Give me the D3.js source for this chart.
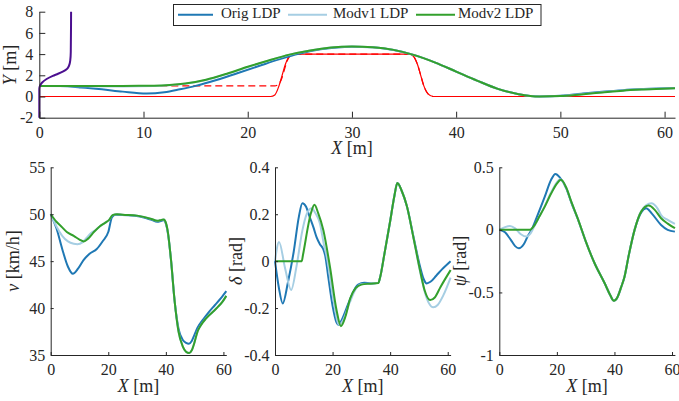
<!DOCTYPE html>
<html>
<head>
<meta charset="utf-8">
<script src="https://cdn.jsdelivr.net/npm/d3@7"></script>
<style>
  body { margin: 0; background: #fff; }
  text { font-family: "Liberation Serif", "Times New Roman", serif; fill: #262626; }
</style>
</head>
<body>
<svg id="chart" width="679" height="401"></svg>
<script>
// ---------- Data ----------
const seriesNames = ["Orig LDP", "Modv1 LDP", "Modv2 LDP"];

// Top panel: vehicle paths Y(X) [m]
const trajOrigX = [0, 2, 4, 6, 8, 10.3, 12, 13.5, 15, 17, 19, 21, 23, 25, 27, 30, 32, 34, 36, 38, 40, 42, 44, 46, 48, 50, 52, 54, 56, 58, 61];
const trajOrigY = [1.0, 0.98, 0.86, 0.68, 0.46, 0.28, 0.4, 0.68, 1.0, 1.55, 2.2, 2.85, 3.5, 4.05, 4.45, 4.7, 4.64, 4.38, 3.9, 3.2, 2.35, 1.5, 0.72, 0.22, 0.01, 0.08, 0.27, 0.45, 0.6, 0.7, 0.8];
const trajModv1X = [0, 4, 8, 11, 12.5, 14, 16, 18, 20, 22, 24, 26, 28, 30, 32, 34, 36, 38, 40, 42, 44, 46, 48, 50, 52, 54, 56, 58, 61];
const trajModv1Y = [1.0, 0.96, 0.95, 0.99, 1.06, 1.2, 1.56, 2.12, 2.77, 3.38, 3.94, 4.34, 4.62, 4.72, 4.65, 4.4, 3.9, 3.2, 2.35, 1.5, 0.72, 0.22, 0.0, 0.05, 0.22, 0.4, 0.57, 0.68, 0.79];
const trajModv2X = [0, 4, 8, 11, 12.5, 14, 16, 18, 20, 22, 24, 26, 28, 30, 32, 34, 36, 38, 40, 42, 44, 46, 48, 50, 52, 54, 56, 58, 61];
const trajModv2Y = [1.0, 1.0, 1.0, 1.02, 1.08, 1.22, 1.58, 2.15, 2.8, 3.4, 3.95, 4.35, 4.62, 4.72, 4.65, 4.4, 3.9, 3.2, 2.35, 1.5, 0.72, 0.22, 0.0, 0.04, 0.2, 0.38, 0.55, 0.66, 0.78];

// Lane centre (solid) and reference path (dashed)
const laneX = [0, 22.2, 22.6, 23.0, 23.3, 23.6, 24.0, 24.5, 35.5, 35.9, 36.3, 36.6, 36.9, 37.3, 37.8, 61];
const laneY = [0, 0, 0.15, 1.0, 2.0, 3.0, 3.8, 4.0, 4.0, 3.8, 3.0, 2.0, 1.0, 0.25, 0, 0];
const refX = [0, 22.6, 23.0, 23.3, 23.6, 23.9, 24.3, 24.8, 35.5, 35.9, 36.3, 36.6, 36.9, 37.3, 37.8, 61];
const refY = [1, 1, 1.2, 1.8, 2.8, 3.6, 3.95, 4.0, 4.0, 3.8, 3.0, 2.0, 1.0, 0.25, 0, 0];

// Driver intention curve
const intentX = [0, 0, 0.08, 0.25, 0.7, 1.3, 1.8, 2.3, 2.65, 2.85, 2.97, 3.02, 3.05];
const intentY = [-2, 0.7, 1.05, 1.3, 1.65, 1.95, 2.15, 2.38, 2.6, 2.9, 3.4, 4.2, 8];

// Speed v [km/h]
const speedOrigX = [0, 2, 4, 6, 7.7, 9.5, 11.4, 13.5, 16, 18, 20, 21.3, 22.5, 27, 31, 35, 37, 38.5, 39.3, 40, 40.8, 41.8, 43, 44.4, 45.9, 47, 48, 49, 50, 51, 53, 55, 57, 59, 61];
const speedOrigV = [50, 48.5, 46.3, 44.4, 43.65, 44.2, 45.1, 45.8, 46.3, 47.1, 48.1, 49.7, 49.95, 49.9, 49.75, 49.4, 49.2, 49.3, 49.35, 49.0, 47.8, 45.1, 40.9, 37.8, 36.6, 36.3, 36.2, 36.5, 37.2, 37.9, 38.8, 39.6, 40.3, 41.0, 41.8];
const speedModv1X = [0, 2, 4, 6, 8, 9.3, 11, 12.5, 14, 15.5, 17, 19, 20.3, 21.5, 23, 25, 30, 35, 37, 38.5, 39.3, 40, 40.6, 41.8, 43, 44.4, 45.9, 47, 48.1, 49, 50, 51, 52, 54, 56, 58, 59.5, 61];
const speedModv1V = [50, 48.7, 47.7, 47.1, 46.85, 46.8, 47.0, 47.5, 48.0, 48.3, 48.7, 49.1, 49.4, 49.9, 50.0, 49.95, 49.85, 49.5, 49.3, 49.4, 49.45, 49.1, 48.3, 45.1, 40.9, 37.5, 35.9, 35.35, 35.2, 35.5, 36.4, 37.5, 38.1, 38.9, 39.5, 40.1, 40.6, 41.3];
const speedModv2X = [0, 2, 4, 5.6, 8, 10, 11.5, 13, 15, 17, 19, 20.3, 21.5, 23, 25, 30, 35, 37, 38.5, 39.3, 40, 40.6, 41.8, 43, 44.4, 45.9, 47, 48.1, 49, 50, 51, 52, 54, 56, 58, 59.5, 61];
const speedModv2V = [50, 49.2, 48.6, 48.1, 47.7, 47.3, 47.1, 47.4, 48.1, 48.7, 49.1, 49.4, 49.9, 50.0, 49.95, 49.85, 49.5, 49.3, 49.4, 49.45, 49.1, 48.3, 45.1, 40.9, 37.5, 35.9, 35.35, 35.2, 35.5, 36.4, 37.5, 38.1, 38.9, 39.5, 40.1, 40.6, 41.3];

// Steering angle delta [rad]
const steerOrigX = [0, 1.3, 2.7, 4.5, 6.5, 8.3, 9.5, 10.8, 12, 13.3, 14.5, 15.6, 16.8, 17.5, 18.5, 20, 21.4, 22.1, 23, 25.5, 27, 28.9, 31, 33.5, 35.9, 36.5, 38, 40, 41.5, 42.5, 44, 45.8, 48.1, 50.4, 51.6, 52.7, 54, 56, 58, 61];
const steerOrigD = [0, -0.11, -0.18, -0.09, 0.04, 0.19, 0.247, 0.232, 0.19, 0.146, 0.1, 0.072, 0.05, 0.02, -0.067, -0.19, -0.262, -0.272, -0.255, -0.18, -0.135, -0.10, -0.092, -0.095, -0.092, -0.07, 0.03, 0.17, 0.28, 0.333, 0.3, 0.235, 0.104, -0.024, -0.075, -0.095, -0.088, -0.062, -0.035, 0.0];
const steerModv1X = [0, 1.4, 3.5, 5.6, 7.5, 9.5, 11, 12.7, 14, 15.6, 17, 18, 20.3, 22.3, 23.5, 26, 28, 30, 33, 35.9, 36.5, 38, 40, 41.5, 42.5, 44, 45.8, 48.1, 50.4, 52, 53.5, 55, 56.5, 58.5, 61];
const steerModv1D = [0, 0.082, -0.03, -0.123, -0.02, 0.13, 0.2, 0.225, 0.205, 0.161, 0.07, 0.018, -0.166, -0.272, -0.255, -0.175, -0.12, -0.098, -0.095, -0.092, -0.07, 0.03, 0.17, 0.28, 0.333, 0.3, 0.235, 0.1, -0.045, -0.13, -0.18, -0.197, -0.187, -0.145, -0.07];
const steerModv2X = [0, 9.3, 9.7, 12.5, 13.7, 15, 16.8, 19.1, 21.4, 22.9, 24.5, 26.1, 28, 30, 33, 35.9, 36.5, 38, 40, 41.5, 42.5, 44, 45.8, 48.1, 50.4, 52, 53.9, 55.5, 57.5, 61];
const steerModv2D = [0, 0, 0.025, 0.205, 0.24, 0.205, 0.132, -0.025, -0.21, -0.277, -0.235, -0.16, -0.115, -0.1, -0.096, -0.093, -0.07, 0.03, 0.17, 0.28, 0.333, 0.3, 0.235, 0.1, -0.04, -0.125, -0.166, -0.155, -0.11, -0.038];

// Heading angle psi [rad]
const headOrigX = [0, 2, 4, 5.5, 6.8, 8.5, 10, 11.2, 13, 15.8, 18, 19.5, 21, 23.3, 25, 27.4, 30, 33.1, 36.6, 38.5, 39.8, 41, 42.3, 43.5, 45, 47, 49.3, 51, 53, 56.2, 58.5, 61];
const headOrigP = [0, -0.02, -0.08, -0.13, -0.147, -0.115, -0.045, 0.0, 0.1, 0.265, 0.4, 0.447, 0.42, 0.33, 0.22, 0.079, -0.09, -0.267, -0.427, -0.52, -0.566, -0.54, -0.46, -0.374, -0.2, 0.0, 0.14, 0.172, 0.13, 0.039, 0.0, -0.014];
const headModv1X = [0, 2, 3.7, 5.5, 7.5, 9.5, 10.8, 12, 14, 16, 18, 20, 21, 23.3, 25, 27.4, 30, 33.1, 36.6, 38.5, 39.8, 41, 42.3, 43.5, 45, 47, 49.3, 52.8, 55, 56.2, 58.5, 61];
const headModv1P = [0, 0.022, 0.031, 0.012, -0.035, -0.054, -0.03, 0.02, 0.11, 0.2, 0.3, 0.38, 0.405, 0.335, 0.225, 0.082, -0.09, -0.267, -0.427, -0.52, -0.566, -0.54, -0.46, -0.374, -0.2, 0.0, 0.15, 0.212, 0.17, 0.119, 0.08, 0.047];
const headModv2X = [0, 10.6, 12, 14, 15.8, 18, 20, 21.4, 23.3, 25, 27.4, 30, 33.1, 36.6, 38.5, 39.8, 41, 42.3, 43.5, 45, 47, 49.3, 51.9, 54, 56.2, 58.5, 61];
const headModv2P = [0, 0, 0.03, 0.11, 0.186, 0.29, 0.37, 0.40, 0.335, 0.225, 0.082, -0.09, -0.267, -0.427, -0.52, -0.566, -0.54, -0.46, -0.374, -0.2, 0.0, 0.146, 0.194, 0.16, 0.093, 0.05, 0.013];

// Tick values
const xTicks = [0, 10, 20, 30, 40, 50, 60];
const xTicksSmall = [0, 20, 40, 60];
const yTicksTop = [-2, 0, 2, 4, 6, 8];
const yTicksSpeed = [35, 40, 45, 50, 55];
const yTicksSteer = [-0.4, -0.2, 0, 0.2, 0.4];
const yTicksHead = [-1, -0.5, 0, 0.5];

// ---------- Drawing ----------
const colors = ["#1f78b4", "#a6cee3", "#33a02c"];
const axisColor = "#262626";
const serif = '"Liberation Serif", "Times New Roman", serif';
const svg = d3.select("#chart");
const zip = (xs, ys) => xs.map((x, i) => [x, ys[i]]);
const fmt = d => String(d);

function drawAxes(g, x, y, xt, yt, tick, padX, padY) {
  const ax = g.append("g")
    .attr("transform", `translate(0,${y.range()[0]})`)
    .call(d3.axisBottom(x).tickValues(xt).tickFormat(fmt).tickSizeInner(-tick).tickSizeOuter(0).tickPadding(padX));
  const ay = g.append("g")
    .attr("transform", `translate(${x.range()[0]},0)`)
    .call(d3.axisLeft(y).tickValues(yt).tickFormat(fmt).tickSizeInner(-tick).tickSizeOuter(0).tickPadding(padY));
  [ax, ay].forEach(a => {
    a.attr("color", axisColor).attr("font-family", serif).attr("font-size", 16);
    a.selectAll("text").style("font-family", serif).style("font-size", "16px").attr("fill", axisColor);
    a.select(".domain").attr("stroke-width", 1);
  });
}

function axisLabel(g, cx, cy, sym, unit, rotate) {
  const t = g.append("text")
    .attr("text-anchor", "middle")
    .attr("dominant-baseline", "middle")
    .style("font-family", serif)
    .style("font-size", "18px")
    .attr("transform", rotate ? `translate(${cx},${cy}) rotate(-90)` : `translate(${cx},${cy})`);
  t.append("tspan").style("font-style", "italic").text(sym);
  t.append("tspan").text(" [" + unit + "]");
}

// ---- Top panel ----
const topPanel = svg.append("g");
const xTop = d3.scaleLinear().domain([0, 61]).range([39.3, 675]);
const yTop = d3.scaleLinear().domain([-2, 8]).range([117.7, 11.7]);
const lineTop = d3.line().x(d => xTop(d[0])).y(d => yTop(d[1])).curve(d3.curveMonotoneX);

topPanel.append("path").datum(zip(laneX, laneY)).attr("d", lineTop)
  .attr("fill", "none").attr("stroke", "#ff0000").attr("stroke-width", 1.2);
topPanel.append("path").datum(zip(refX, refY)).attr("d", lineTop)
  .attr("fill", "none").attr("stroke", "#ff0000").attr("stroke-width", 1.2).attr("stroke-dasharray", "7,4");

const trajs = [zip(trajOrigX, trajOrigY), zip(trajModv1X, trajModv1Y), zip(trajModv2X, trajModv2Y)];
trajs.forEach((d, i) => {
  topPanel.append("path").datum(d).attr("d", lineTop)
    .attr("fill", "none").attr("stroke", colors[i]).attr("stroke-width", 2);
});

const lineIntent = d3.line().x(d => xTop(d[0])).y(d => yTop(d[1])).curve(d3.curveMonotoneY);
topPanel.append("path").datum(zip(intentX, intentY)).attr("d", lineIntent)
  .attr("fill", "none").attr("stroke", "#4b0f8f").attr("stroke-width", 2);

drawAxes(topPanel, xTop, yTop, xTicks, yTicksTop, 6, 9, 6);
axisLabel(topPanel, 352, 149.5, "X", "m", false);
axisLabel(topPanel, 12, 65, "Y", "m", true);

// Legend
const leg = svg.append("g");
leg.append("rect").attr("x", 173.5).attr("y", 4.5).attr("width", 367.5).attr("height", 21)
  .attr("fill", "#fff").attr("stroke", axisColor).attr("stroke-width", 1);
const legLines = [[178, 213], [288, 327], [416, 455]];
const legText = [221, 333, 458];
seriesNames.forEach((name, i) => {
  leg.append("line").attr("x1", legLines[i][0]).attr("x2", legLines[i][1])
    .attr("y1", 14.8).attr("y2", 14.8).attr("stroke", colors[i]).attr("stroke-width", 2);
  leg.append("text").attr("x", legText[i]).attr("y", 14.8).attr("dominant-baseline", "middle")
    .style("font-family", serif).style("font-size", "15px").text(name);
});

// ---- Bottom panels ----
const panels = [
  { left: 50.7, dom: [35, 55], ticks: yTicksSpeed, sym: "v", unit: "km/h", labX: 15,
    data: [zip(speedOrigX, speedOrigV), zip(speedModv1X, speedModv1V), zip(speedModv2X, speedModv2V)] },
  { left: 275, dom: [-0.4, 0.4], ticks: yTicksSteer, sym: "δ", unit: "rad", labX: 238,
    data: [zip(steerOrigX, steerOrigD), zip(steerModv1X, steerModv1D), zip(steerModv2X, steerModv2D)] },
  { left: 499.3, dom: [-1, 0.5], ticks: yTicksHead, sym: "ψ", unit: "rad", labX: 462,
    data: [zip(headOrigX, headOrigP), zip(headModv1X, headModv1P), zip(headModv2X, headModv2P)] }
];

panels.forEach(p => {
  const g = svg.append("g");
  const x = d3.scaleLinear().domain([0, 61]).range([p.left, p.left + 175.6]);
  const y = d3.scaleLinear().domain(p.dom).range([355, 167.3]);
  const line = d3.line().x(d => x(d[0])).y(d => y(d[1])).curve(d3.curveMonotoneX);
  p.data.forEach((d, i) => {
    g.append("path").datum(d).attr("d", line)
      .attr("fill", "none").attr("stroke", colors[i]).attr("stroke-width", 2);
  });
  drawAxes(g, x, y, xTicksSmall, p.ticks, 3, 9, 5.5);
  axisLabel(g, p.left + 87.8, 388, "X", "m", false);
  axisLabel(g, p.labX, 261, p.sym, p.unit, true);
});
</script>
</body>
</html>
